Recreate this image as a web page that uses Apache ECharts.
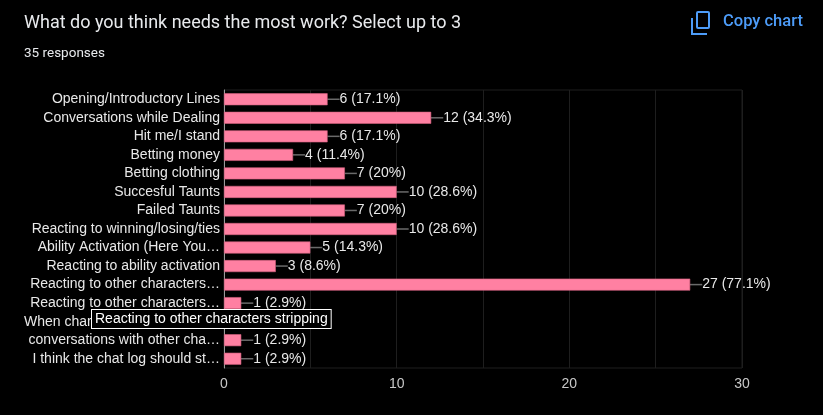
<!DOCTYPE html>
<html>
<head>
<meta charset="utf-8">
<script src="https://cdn.jsdelivr.net/npm/echarts@6/dist/echarts.min.js"></script>
<style>
html,body{margin:0;padding:0;background:#000;}
#main{width:823px;height:415px;}
</style>
</head>
<body>
<div id="main"></div>
<script>
// categories as shown on the axis (top to bottom)
var categories = [
	'Opening/Introductory Lines',
	'Conversations while Dealing',
	'Hit me/I stand',
	'Betting money',
	'Betting clothing',
	'Succesful Taunts',
	'Failed Taunts',
	'Reacting to winning/losing/ties',
	'Ability Activation (Here You\u2026',
	'Reacting to ability activation',
	'Reacting to other characters\u2026',
	'Reacting to other characters\u2026',
	'When characters are talking t\u2026',
	'conversations with other cha\u2026',
	'I think the chat log should st\u2026'
];
var counts = [6, 12, 6, 4, 7, 10, 7, 10, 5, 3, 27, 1, 1, 1, 1];
var percents = ['17.1%', '34.3%', '17.1%', '11.4%', '20%', '28.6%', '20%', '28.6%', '14.3%', '8.6%', '77.1%', '2.9%', '2.9%', '2.9%', '2.9%'];
var xTicks = [0, 10, 20, 30];
var totalResponses = 35;
var titleText = 'What do you think needs the most work? Select up to 3';
var tipText = 'Reacting to other characters stripping';

var myChart = echarts.init(document.getElementById('main'));

var blue = '#4d9cf8';
var option = {
	backgroundColor: '#000',
	animation: false,
	textStyle: {fontFamily: 'Liberation Sans, Arial, sans-serif'},
	grid: {
		left: 224,
		right: 81,
		top: 90,
		bottom: 47,
		show: true,
		borderColor: '#1e1e1e',
		borderWidth: 1
	},
	xAxis: {
		type: 'value',
		min: xTicks[0],
		max: xTicks[xTicks.length - 1],
		interval: 10,
		axisLine: {show: false},
		axisTick: {show: false},
		axisLabel: {color: '#c8c8c8', fontSize: 14, margin: 9},
		splitLine: {show: true, lineStyle: {color: '#1e1e1e', width: 1}},
		minorTick: {show: false, splitNumber: 2},
		minorSplitLine: {show: true, lineStyle: {color: '#1e1e1e', width: 1}}
	},
	yAxis: {
		type: 'category',
		inverse: true,
		data: categories,
		axisLine: {show: true, lineStyle: {color: '#9a9a9a', width: 1}},
		axisTick: {show: false},
		axisLabel: {color: '#e8e8e8', fontSize: 14, margin: 4, interval: 0}
	},
	series: [{
		type: 'bar',
		data: counts,
		barWidth: 12,
		itemStyle: {color: '#ff80a2', borderColor: '#d45f7e', borderWidth: 0.6},
		label: {
			show: true,
			position: 'right',
			distance: 12,
			color: '#e8e8e8',
			fontSize: 14,
			formatter: function (p) {
				return p.value + ' (' + percents[p.dataIndex] + ')';
			}
		},
		labelLine: {show: true, lineStyle: {color: '#6a6a6a', width: 1.5}},
		labelLayout: {dx: 0}
	}],
	graphic: [
		{
			type: 'text', left: 24, top: 14,
			style: {text: titleText, fill: '#e8eaed', fontSize: 18, fontFamily: 'Roboto, sans-serif'}
		},
		{
			type: 'text', left: 24, top: 47,
			style: {text: totalResponses + ' responses', fill: '#e8eaed', fontSize: 13.5, fontFamily: 'Roboto, sans-serif'}
		},
		{
			type: 'rect', shape: {x: 697, y: 12, width: 12, height: 16, r: 1},
			style: {fill: 'none', stroke: blue, lineWidth: 2}
		},
		{
			type: 'polyline', shape: {points: [[692, 18], [692, 34], [707, 34]]},
			style: {fill: 'none', stroke: blue, lineWidth: 2}
		},
		{
			type: 'text', left: 723, top: 13,
			style: {text: 'Copy chart', fill: blue, fontSize: 16.5, fontWeight: 500, fontFamily: 'Roboto, sans-serif'}
		},
		{
			type: 'text', left: 91, top: 309, z: 100,
			style: {
				text: tipText, fill: '#fff', fontSize: 14,
				backgroundColor: '#000', borderColor: '#fff', borderWidth: 1,
				padding: [2, 3, 2, 3]
			}
		}
	]
};
myChart.setOption(option);
</script>
</body>
</html>
